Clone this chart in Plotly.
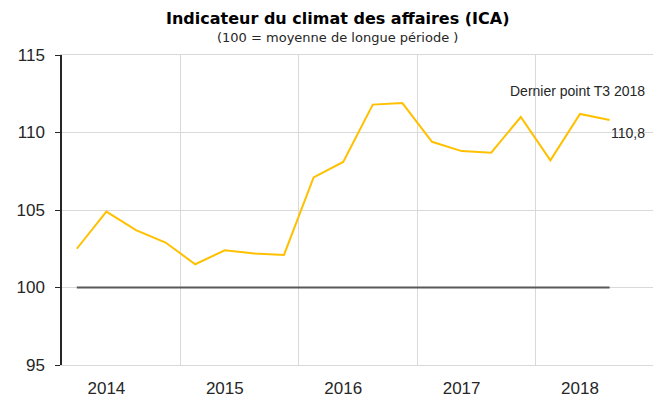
import plotly.graph_objects as go

# données trimestrielles T1 2014 - T3 2018
annees = [2014, 2014, 2014, 2014, 2015, 2015, 2015, 2015, 2016, 2016, 2016, 2016,
          2017, 2017, 2017, 2017, 2018, 2018, 2018]
trimestres = [1, 2, 3, 4, 1, 2, 3, 4, 1, 2, 3, 4, 1, 2, 3, 4, 1, 2, 3]
ica = [102.5, 104.9, 103.7, 102.9, 101.5, 102.4, 102.2, 102.1, 107.1, 108.1,
       111.8, 111.9, 109.4, 108.8, 108.7, 111.0, 108.2, 111.2, 110.8]
reference = [100] * len(ica)
annees_labels = ['2014', '2015', '2016', '2017', '2018']

# position de chaque trimestre au centre de sa case
x = [a + (t - 0.5) / 4 for a, t in zip(annees, trimestres)]

font = "Liberation Sans"
font_titre = "DejaVu Sans"

fig = go.Figure()
fig.add_trace(go.Scatter(x=x, y=reference, mode='lines',
                         line=dict(color='#595959', width=2), hoverinfo='skip'))
fig.add_trace(go.Scatter(x=x, y=ica, mode='lines', name='ICA',
                         line=dict(color='#FFC000', width=2)))

# la page a une marge de 8px : on réduit la figure d'autant
fig.update_layout(
    width=653, height=393,
    margin=dict(l=54, r=7, t=47, b=36),
    paper_bgcolor='white', plot_bgcolor='white',
    showlegend=False,
    font=dict(family=font, color='#262626'),
)

fig.update_xaxes(
    range=[2014, 2019],
    tickvals=[int(a) + 0.375 for a in annees_labels],
    ticktext=annees_labels,
    tickfont=dict(size=17, color='#262626'),
    ticks='outside', ticklen=8, tickcolor='rgba(0,0,0,0)',
    showgrid=False, zeroline=False, automargin=False,
    showline=True, linecolor='#d9d9d9', linewidth=1, mirror=True,
    minor=dict(tickvals=[2015, 2016, 2017, 2018], showgrid=True,
               gridcolor='#d9d9d9', gridwidth=1, ticks=''),
)
fig.update_yaxes(
    range=[95, 115], dtick=5,
    tickfont=dict(size=17, color='#262626'),
    ticks='outside', ticklen=5, tickcolor='#262626', ticklabelstandoff=7,
    showline=True, linecolor='#262626', linewidth=1.5,
    gridcolor='#d9d9d9', zeroline=False, automargin=False,
)

# bord droit gris clair de la zone de tracé
fig.add_shape(type='line', xref='paper', yref='paper', x0=1, x1=1, y0=0, y1=1,
              line=dict(color='#d9d9d9', width=1), layer='below')

# titre et sous-titre
fig.add_annotation(x=0.466, xref='paper', y=1.1516, yref='paper',
                   text='<b>Indicateur du climat des affaires (ICA)</b>',
                   showarrow=False, xanchor='center', yanchor='top', borderpad=0,
                   font=dict(size=16, family=font_titre, color='black'))
fig.add_annotation(x=0.466, xref='paper', y=1.058, yref='paper',
                   text='(100 = moyenne de longue période )',
                   showarrow=False, xanchor='center', yanchor='middle',
                   font=dict(size=13, family=font_titre, color='#262626'))

fig.add_annotation(x=0.988, xref='paper', y=112.68, yref='y', text='Dernier point T3 2018',
                   showarrow=False, xanchor='right', yanchor='middle',
                   font=dict(size=14, color='#262626'))
fig.add_annotation(x=0.988, xref='paper', y=109.97, yref='y', text='110,8',
                   showarrow=False, xanchor='right', yanchor='middle',
                   font=dict(size=14, color='#262626'))

fig.write_html("out.html")
